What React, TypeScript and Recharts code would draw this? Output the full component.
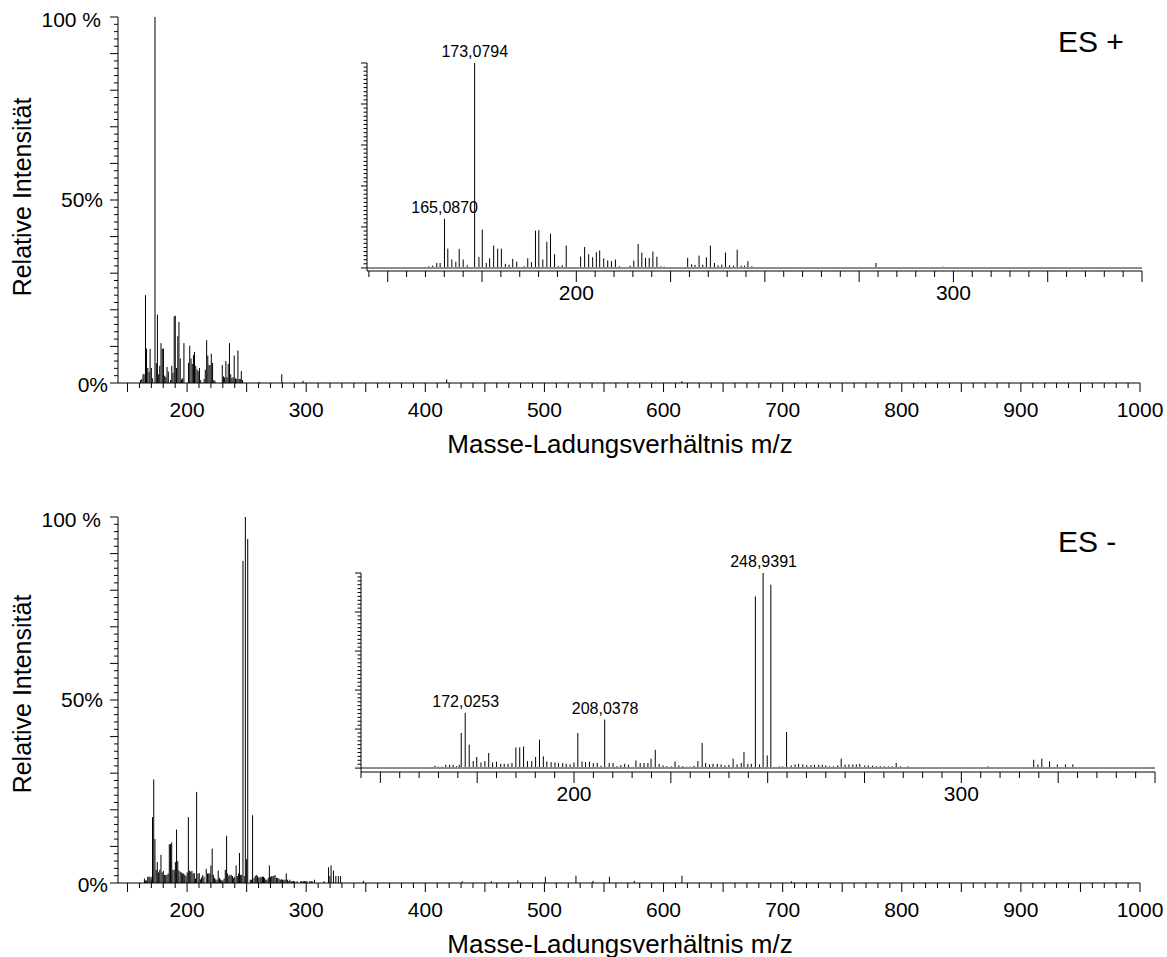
import React from 'react';
import { BarChart, Bar, XAxis, YAxis, ReferenceLine, ReferenceDot } from 'recharts';

const FONT = '"Liberation Sans", Arial, Helvetica, sans-serif';

type Peak = [number, number]; // [m/z, relative intensity %]

// ES+ spectrum
const esPlusPeaks: Peak[] = [
  [160.92, 0.8], [161.98, 1.1], [163.05, 2.4], [163.93, 2.4], [165.087, 24], [165.97, 9.4],
  [167.04, 4.1], [168.1, 3], [168.99, 9.3], [170.05, 4.1], [171.12, 1.3], [173.0794, 100],
  [174.22, 5.4], [175.11, 18.7], [176.17, 2.4], [177.06, 4.7], [178.13, 10.9], [179.19, 9.4],
  [180.17, 9.4], [181.23, 2], [182.21, 1.6], [183.18, 4.4], [184.25, 3.1], [186.2, 0.8],
  [187.17, 4.7], [188.15, 2.8], [189.21, 18.2], [190.1, 18.4], [191.16, 4.1], [192.23, 12.8],
  [193.2, 16.7], [194.27, 6.7], [195.24, 1], [196.31, 1.3], [197.37, 10.9], [201.19, 5.5],
  [202.25, 10.2], [203.32, 6.7], [204.38, 5.2], [205.36, 7.6], [206.24, 8.5], [207.31, 4.7],
  [208.37, 3.7], [209.35, 3.3], [210.41, 4.1], [211.48, 0.8], [214.32, 1.1], [215.29, 3.6],
  [216.44, 11.7], [217.42, 7.5], [218.39, 4.9], [219.37, 4.9], [220.35, 8], [221.41, 5.5],
  [222.47, 0.8], [223.36, 0.6], [229.57, 4.9], [230.64, 1.8], [231.52, 1.5], [232.59, 6],
  [233.56, 1.6], [234.54, 5.2], [235.6, 10.9], [236.67, 2.4], [237.64, 1.3], [238.62, 1.6],
  [239.6, 7.5], [240.66, 1.3], [241.72, 1.1], [242.7, 8.9], [243.76, 1.1], [244.65, 1.1],
  [245.54, 3.3], [246.6, 0.8], [260.5, 0.3], [279.5, 2.4], [297.3, 0.6], [418, 1.0], [615.5, 0.5],
];
const esPlusLabels = [
  { mz: 165.087, text: '165,0870' },
  { mz: 173.0794, text: '173,0794' },
];

// ES- spectrum
const esMinusPeaks: Peak[] = [
  [164.2, 1.2], [165.05, 0.7], [166.1, 0.7], [167.0, 1.7], [168.0, 1.7], [168.9, 1.7],
  [169.8, 1.0], [170.5, 1.7], [171.0, 18], [172.0253, 28.3], [173.06, 12], [174.1, 3.6],
  [175.0, 5.7], [176.1, 2.9], [177.1, 3.6], [178.1, 7.7], [179.1, 2.9], [180.1, 3.3],
  [181.2, 2.2], [182.1, 2.2], [183.1, 2.2], [184.1, 2.6], [185.1, 10.6], [186.1, 10.6],
  [187.1, 11.1], [188.1, 3.6], [189.2, 3.6], [190.2, 5.7], [191.2, 14.6], [192.2, 6],
  [193.1, 3.4], [194.2, 3.1], [195.2, 2.9], [196.1, 2.6], [197.2, 2.6], [198.1, 2.2],
  [199.1, 1.9], [200.1, 2.9], [201.1, 18], [202.2, 3.4], [203.1, 3.1], [204.1, 3.3],
  [205.1, 2.6], [206.1, 2.7], [207.1, 1.2], [208.0378, 24.9], [209.2, 2.6], [210.2, 2.7],
  [211.2, 1.0], [212.2, 1.5], [213.2, 2.2], [214.2, 1.7], [216.1, 3.9], [217.2, 2.6],
  [218.2, 2.6], [219.2, 2.6], [220.0, 4.8], [221.1, 9.4], [222.1, 2.2], [223.1, 1.4],
  [224.1, 1.0], [225.2, 0.9], [226.2, 3.4], [227.2, 1.4], [228.2, 1.0], [229.1, 0.7],
  [230.1, 0.7], [231.1, 1.2], [232.1, 3.6], [233.2, 12.9], [234.1, 2.6], [235.1, 1.9],
  [236.0, 2.2], [237.1, 2.2], [238.1, 1.9], [239.1, 1.4], [240.1, 1.7], [241.2, 4.8],
  [242.2, 1.9], [243.3, 2.6], [244.0, 8.2], [245.0, 2.2], [245.9, 2.2], [246.94, 88],
  [248.0, 1.9], [248.9391, 100], [250.0, 6.5], [250.94, 94], [253.1, 0.9], [254.0, 0.9],
  [255.0, 18.5], [256.2, 1.4], [257.2, 1.9], [258.1, 2.2], [259.2, 1.9], [260.2, 1.5],
  [261.3, 1.5], [262.2, 1.7], [263.3, 1.7], [264.2, 1.7], [265.1, 1.4], [266.1, 0.9],
  [267.1, 0.9], [268.2, 1.4], [269.1, 4.8], [270.1, 1.7], [271.1, 1.9], [272.1, 1.9],
  [273.0, 1.9], [273.9, 2.2], [275.2, 1.4], [276.1, 1.4], [277.2, 1.2], [278.2, 0.9],
  [279.2, 1.0], [280.2, 0.9], [281.3, 0.9], [282.3, 0.9], [283.3, 2.6], [284.4, 0.9],
  [285.4, 0.5], [286.3, 0.9], [287.4, 0.5], [288.3, 0.5], [289.4, 0.5], [290.4, 0.5],
  [292.4, 0.5], [295.4, 0.5], [296.4, 0.5], [297.6, 0.5], [298.6, 0.5], [299.7, 0.5],
  [300.7, 0.5], [303.1, 0.5], [304.2, 0.5], [305.0, 0.5], [307.0, 0.9], [315.0, 0.5],
  [318.8, 4.3], [319.9, 1.9], [320.9, 4.8], [322.9, 3.4], [324.9, 1.9], [327.0, 1.9],
  [328.9, 1.9], [348, 0.6], [431, 0.5], [455.5, 0.5], [477.7, 0.7], [500.8, 1.7],
  [526.5, 2.0], [540.8, 0.6], [554.6, 1.7], [575.4, 0.6], [615.5, 2.0], [707.4, 0.5],
];
const esMinusLabels = [
  { mz: 172.0253, text: '172,0253' },
  { mz: 208.0378, text: '208,0378' },
  { mz: 248.9391, text: '248,9391' },
];

// axis ticks
const mainXTicks = Array.from({ length: 86 }, (_, i) => 150 + i * 10);
const mainXLabels = [200, 300, 400, 500, 600, 700, 800, 900, 1000];
const insetXTicks = Array.from({ length: 42 }, (_, i) => 145 + i * 5);
const insetXLabels = [200, 300];
const yTicks = Array.from({ length: 51 }, (_, i) => i * 2);
const mainYLabels: Record<number, string> = { 100: '100 %', 50: '50%', 0: '0%' };

const rows = (peaks: Peak[], lo: number, hi: number) =>
  peaks.filter(([mz]) => mz >= lo && mz <= hi).map(([mz, rel]) => ({ mz, rel }));

const PeakLine = (props: any) => {
  const { x, y, width, height } = props;
  if (x == null || y == null) return null;
  const cx = x + (width || 0) / 2;
  return <line x1={cx} x2={cx} y1={y} y2={y + height} stroke="#000" strokeWidth={1} />;
};

const makeXTick = (major: number, labels: number[], labelDy: number, longLen: number, shortLen: number) =>
  (props: any) => {
    const { x, y, payload } = props;
    const v = payload.value;
    return (
      <g>
        <line x1={x} x2={x} y1={y} y2={y + (v % major === 0 ? longLen : shortLen)} stroke="#000" />
        {labels.includes(v) && (
          <text x={x} y={y + labelDy} textAnchor="middle" fontSize={21} fontFamily={FONT} fill="#000">
            {v}
          </text>
        )}
      </g>
    );
  };

const mainXTick = makeXTick(50, mainXLabels, 34, 9, 5);
const insetXTick = makeXTick(25, insetXLabels, 29, 11, 6);

const yLabelPos: Record<number, [number, number]> = { 100: [-17, 10], 50: [-15, 7], 0: [-10, 9] };

const MainYTick = (props: any) => {
  const { x, y, payload } = props;
  const v = payload.value;
  const label = mainYLabels[v];
  return (
    <g>
      <line x1={x} x2={x - (v % 10 === 0 ? 8 : 4)} y1={y} y2={y} stroke="#000" />
      {label && (
        <text x={x + yLabelPos[v][0]} y={y + yLabelPos[v][1]} textAnchor="end" fontSize={21} fontFamily={FONT} fill="#000">
          {label}
        </text>
      )}
    </g>
  );
};

const InsetYTick = (props: any) => {
  const { x, y, payload } = props;
  const v = payload.value;
  return <line x1={x} x2={x - (v % 20 === 0 ? 6 : 3.5)} y1={y} y2={y} stroke="#000" />;
};

interface PanelProps {
  top: number;
  peaks: Peak[];
  labels: { mz: number; text: string }[];
  mode: string;
  inset: { left: number; right: number; top: number; height: number; min: number; lo: number };
  yTitleY: number;
}

const Panel = ({ top, peaks, labels, mode, inset, yTitleY }: PanelProps) => {
  const mainRows = rows(peaks, 142, 1000);
  const insetRows = rows(peaks, inset.lo, 350);
  const insetChartH = 320;
  return (
    <>
      <div style={{ position: 'absolute', left: 0, top }}>
        <BarChart width={1167} height={470} data={mainRows} margin={{ top: 17, right: 27, bottom: 0, left: 0 }}>
          <XAxis dataKey="mz" type="number" domain={[142, 1000]} allowDataOverflow ticks={mainXTicks} interval={0}
            tickSize={0} tickMargin={0} tickLine={false} tick={mainXTick} axisLine={{ stroke: '#000' }} height={87} />
          <YAxis type="number" domain={[0, 100]} ticks={yTicks} interval={0} tickSize={0} tickMargin={0}
            tickLine={false} tick={MainYTick} axisLine={{ stroke: '#000' }} width={118} />
          <Bar dataKey="rel" barSize={1} isAnimationActive={false} shape={PeakLine} />
        </BarChart>
      </div>
      <div style={{ position: 'absolute', left: 0, top }}>
        <BarChart width={1167} height={insetChartH} data={insetRows}
          margin={{ top: inset.top, right: 1167 - inset.right, bottom: 0, left: 0 }}>
          <XAxis dataKey="mz" type="number" domain={[inset.lo, 350]} allowDataOverflow ticks={insetXTicks} interval={0}
            tickSize={0} tickMargin={0} tickLine={false} tick={insetXTick} axisLine={{ stroke: '#000' }}
            height={insetChartH - inset.top - inset.height} />
          <YAxis type="number" domain={[inset.min, 100]} allowDataOverflow ticks={yTicks} interval={0} tickSize={0}
            tickMargin={0} tickLine={false} tick={InsetYTick} axisLine={{ stroke: '#000' }} width={inset.left} />
          <ReferenceLine y={0} stroke="#8c8c8c" strokeWidth={2} />
          <Bar dataKey="rel" barSize={1} isAnimationActive={false} shape={PeakLine} />
          {labels.map((l) => {
            const p = peaks.find((q) => q[0] === l.mz);
            return (
              <ReferenceDot key={l.text} x={l.mz} y={p ? p[1] : 0} r={0} fill="none" stroke="none"
                label={{ value: l.text, position: 'top', offset: 6, fontSize: 16, fontFamily: FONT, fill: '#000' }} />
            );
          })}
        </BarChart>
      </div>
      <div style={{
        position: 'absolute', left: 22, top: top + yTitleY, transform: 'translate(-50%, -50%) rotate(-90deg)',
        fontFamily: FONT, fontSize: 25, lineHeight: 1, whiteSpace: 'nowrap', color: '#000',
      }}>
        Relative Intensität
      </div>
      <div style={{
        position: 'absolute', left: 620, top: top + 431, transform: 'translateX(-50%)',
        fontFamily: FONT, fontSize: 26, lineHeight: 1, whiteSpace: 'nowrap', color: '#000',
      }}>
        Masse-Ladungsverhältnis m/z
      </div>
      <div style={{
        position: 'absolute', left: 1058, top: top + 27, fontFamily: FONT, fontSize: 30, lineHeight: 1,
        whiteSpace: 'pre', color: '#000',
      }}>
        {mode}
      </div>
    </>
  );
};

export default function App() {
  return (
    <div style={{ position: 'absolute', left: 0, top: 0, width: 1167, height: 957, background: '#fff' }}>
      <Panel top={0} peaks={esPlusPeaks} labels={esPlusLabels} mode="ES +" yTitleY={197}
        inset={{ left: 367, right: 1142, top: 63, height: 208, min: -1.5, lo: 144.5 }} />
      <Panel top={500} peaks={esMinusPeaks} labels={esMinusLabels} mode="ES -" yTitleY={194}
        inset={{ left: 361, right: 1155, top: 73, height: 199, min: -2, lo: 145 }} />
    </div>
  );
}
